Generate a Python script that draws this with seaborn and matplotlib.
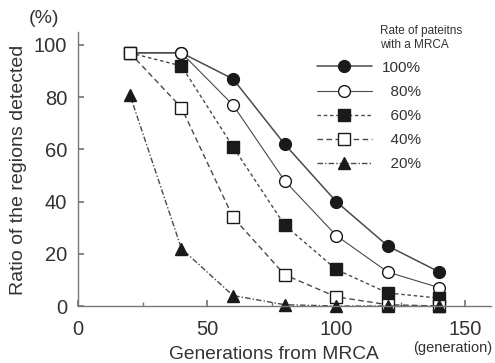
import matplotlib
matplotlib.use("Agg")
import matplotlib.pyplot as plt
import seaborn as sns
import pandas as pd
from matplotlib.ticker import MultipleLocator

sns.set_theme(style="white")
plt.rcParams['font.family'] = ['Liberation Sans', 'DejaVu Sans']

generations = [20, 40, 60, 80, 100, 120, 140]
rate_labels = ["100%", "  80%", "  60%", "  40%", "  20%"]
r100 = [97, 97, 87, 62, 40, 23, 13]
r80 = [97, 97, 77, 48, 27, 13, 7]
r60 = [97, 92, 61, 31, 14, 5, 3]
r40 = [97, 76, 34, 12, 3.5, 0.5, 0]
r20 = [81, 22, 4, 0.5, 0, 0, 0]
series = [r100, r80, r60, r40, r20]

styles = [
    dict(marker='o', mfc='#1a1a1a', ls='-', lw=1.1),
    dict(marker='o', mfc='white', ls='-', lw=0.8),
    dict(marker='s', mfc='#1a1a1a', ls=(0, (2.5, 2)), lw=1.0),
    dict(marker='s', mfc='white', ls=(0, (4, 2.5)), lw=1.0),
    dict(marker='^', mfc='#1a1a1a', ls=(0, (4, 1.5, 1, 1.5)), lw=1.0),
]

fig = plt.figure(figsize=(4.95, 3.63), dpi=100)
ax = fig.add_axes([0.158, 0.157, 0.834, 0.755])

for lab, vals, st in zip(rate_labels, series, styles):
    df = pd.DataFrame({"gen": generations, "val": vals})
    sns.lineplot(data=df, x="gen", y="val", ax=ax, color='#4a4a4a',
                 linestyle=st['ls'], linewidth=st['lw'], marker=st['marker'],
                 markersize=8.5, markerfacecolor=st['mfc'], markeredgecolor='#1a1a1a',
                 markeredgewidth=1.0, label=lab, clip_on=False)

ax.set_xlim(0, 160)
ax.set_ylim(0, 105)
ax.xaxis.set_major_locator(MultipleLocator(50))
ax.xaxis.set_minor_locator(MultipleLocator(25))
ax.set_yticks([0, 20, 40, 60, 80, 100])
for s in ['top', 'right']:
    ax.spines[s].set_visible(False)
for s in ['left', 'bottom']:
    ax.spines[s].set_color('#777777')
    ax.spines[s].set_linewidth(1.0)
ax.tick_params(axis='both', which='both', direction='in', color='#777777',
               labelsize=14.5, labelcolor='#333333', bottom=True, left=True)
ax.tick_params(which='major', length=4)
ax.tick_params(which='minor', length=3)
ax.tick_params(axis='x', pad=10)
ax.tick_params(axis='y', pad=8)
ax.set_xlabel("Generations from MRCA", fontsize=13.8, color='#333333')
ax.set_ylabel("Ratio of the regions detected", fontsize=14, color='#333333')
ax.xaxis.set_label_coords(0.475, -0.176)
ax.xaxis.label.set_va('center')
ax.yaxis.set_label_coords(-0.145, 0.496)
ax.yaxis.label.set_va('center')
fig.text(0.089, 0.95, "(%)", fontsize=14, color='#333333', ha='center', va='center')
fig.text(0.994, 0.041, "(generation)", fontsize=10.5, color='#333333', ha='right', va='center')

fig.text(0.768, 0.895, "Rate of pateitns\nwith a MRCA", fontsize=8.5, color='#333333',
         ha='left', va='center', linespacing=1.25)
leg = ax.legend(loc='upper left', bbox_to_anchor=(0.545, 0.945), frameon=False,
                fontsize=11, handlelength=3.6, labelspacing=0.66, handletextpad=0.65,
                labelcolor='#333333')

fig.savefig("out.png", dpi=100, facecolor='white')
